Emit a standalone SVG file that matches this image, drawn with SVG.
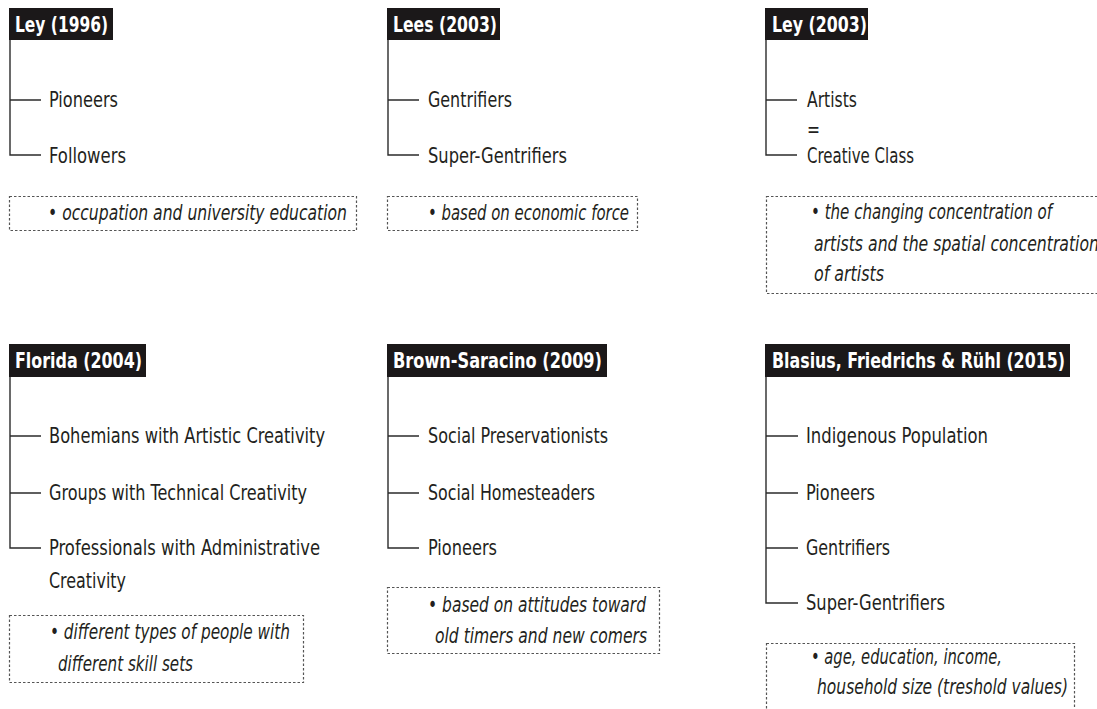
<svg xmlns="http://www.w3.org/2000/svg" width="1097" height="709" viewBox="0 0 1097 709">
<style>
.hdr{fill:#1b1819}
.ht{fill:#fff;font-family:"Liberation Sans Narrow","DejaVu Sans Condensed","Liberation Sans",sans-serif;font-weight:bold;font-size:22px}
.it{fill:#231f20;font-family:"Liberation Sans Narrow","DejaVu Sans Condensed","Liberation Sans",sans-serif;font-size:21px}
.nt{fill:#231f20;font-family:"Liberation Sans Narrow","DejaVu Sans Condensed","Liberation Sans",sans-serif;font-size:21px;font-style:italic}
.box{fill:none;stroke:#555;stroke-width:1.2;stroke-dasharray:2.5 2}
.ln{fill:none;stroke:#2b2b2b;stroke-width:1.4}
</style>
<rect width="1097" height="709" fill="#fff"/>
<g id="connectors">
<path class="ln" d="M10 40V155H41M10 100H41"/>
<path class="ln" d="M388 40V155H419M388 100H419"/>
<path class="ln" d="M766 40V155H797M766 100H797"/>
<path class="ln" d="M10 377V548H41M10 436H41M10 493H41"/>
<path class="ln" d="M388 377V548H419M388 436H419M388 493H419"/>
<path class="ln" d="M766 377V603H798M766 436H798M766 493H798M766 548H798"/>
</g>
<g id="ley1996">
<rect class="hdr" x="9" y="8" width="104" height="32"/>
<text class="ht" x="15" y="32" textLength="93" lengthAdjust="spacingAndGlyphs">Ley (1996)</text>
<text class="it" x="49" y="107" textLength="69" lengthAdjust="spacingAndGlyphs">Pioneers</text>
<text class="it" x="49" y="163" textLength="77" lengthAdjust="spacingAndGlyphs">Followers</text>
<rect class="box" x="9.5" y="196.5" width="347" height="34"/>
<text class="nt" x="48" y="220" textLength="299" lengthAdjust="spacingAndGlyphs">• occupation and university education</text>
</g>
<g id="lees2003">
<rect class="hdr" x="387" y="8" width="113" height="32"/>
<text class="ht" x="393" y="32" textLength="104" lengthAdjust="spacingAndGlyphs">Lees (2003)</text>
<text class="it" x="428" y="107" textLength="84" lengthAdjust="spacingAndGlyphs">Gentrifiers</text>
<text class="it" x="428" y="163" textLength="139" lengthAdjust="spacingAndGlyphs">Super-Gentrifiers</text>
<rect class="box" x="387.5" y="196.5" width="250" height="34"/>
<text class="nt" x="428" y="220" textLength="201" lengthAdjust="spacingAndGlyphs">• based on economic force</text>
</g>
<g id="ley2003">
<rect class="hdr" x="765" y="8" width="103" height="32"/>
<text class="ht" x="772" y="32" textLength="95" lengthAdjust="spacingAndGlyphs">Ley (2003)</text>
<text class="it" x="807" y="107" textLength="50" lengthAdjust="spacingAndGlyphs">Artists</text>
<text class="it" x="807" y="137" textLength="13" lengthAdjust="spacingAndGlyphs">=</text>
<text class="it" x="807" y="163" textLength="107" lengthAdjust="spacingAndGlyphs">Creative Class</text>
<rect class="box" x="766.5" y="196.5" width="340" height="97"/>
<text class="nt" x="811" y="219" textLength="241" lengthAdjust="spacingAndGlyphs">• the changing concentration of</text>
<text class="nt" x="814" y="251" textLength="285" lengthAdjust="spacingAndGlyphs">artists and the spatial concentration</text>
<text class="nt" x="814" y="281" textLength="70" lengthAdjust="spacingAndGlyphs">of artists</text>
</g>
<g id="florida2004">
<rect class="hdr" x="9" y="344" width="137" height="33"/>
<text class="ht" x="15" y="368" textLength="127" lengthAdjust="spacingAndGlyphs">Florida (2004)</text>
<text class="it" x="49" y="443" textLength="276" lengthAdjust="spacingAndGlyphs">Bohemians with Artistic Creativity</text>
<text class="it" x="49" y="500" textLength="258" lengthAdjust="spacingAndGlyphs">Groups with Technical Creativity</text>
<text class="it" x="49" y="555" textLength="271" lengthAdjust="spacingAndGlyphs">Professionals with Administrative</text>
<text class="it" x="49" y="588" textLength="77" lengthAdjust="spacingAndGlyphs">Creativity</text>
<rect class="box" x="9.5" y="615.5" width="294" height="67"/>
<text class="nt" x="50" y="639" textLength="240" lengthAdjust="spacingAndGlyphs">• different types of people with</text>
<text class="nt" x="58" y="671" textLength="135" lengthAdjust="spacingAndGlyphs">different skill sets</text>
</g>
<g id="brownsaracino2009">
<rect class="hdr" x="387" y="344" width="220" height="33"/>
<text class="ht" x="393" y="368" textLength="209" lengthAdjust="spacingAndGlyphs">Brown-Saracino (2009)</text>
<text class="it" x="428" y="443" textLength="180" lengthAdjust="spacingAndGlyphs">Social Preservationists</text>
<text class="it" x="428" y="500" textLength="167" lengthAdjust="spacingAndGlyphs">Social Homesteaders</text>
<text class="it" x="428" y="555" textLength="69" lengthAdjust="spacingAndGlyphs">Pioneers</text>
<rect class="box" x="387.5" y="587.5" width="272" height="66"/>
<text class="nt" x="428" y="612" textLength="218" lengthAdjust="spacingAndGlyphs">• based on attitudes toward</text>
<text class="nt" x="435" y="643" textLength="212" lengthAdjust="spacingAndGlyphs">old timers and new comers</text>
</g>
<g id="blasius2015">
<rect class="hdr" x="765" y="344" width="305" height="33"/>
<text class="ht" x="772" y="368" textLength="293" lengthAdjust="spacingAndGlyphs">Blasius, Friedrichs &amp; Rühl (2015)</text>
<text class="it" x="806" y="443" textLength="182" lengthAdjust="spacingAndGlyphs">Indigenous Population</text>
<text class="it" x="806" y="500" textLength="69" lengthAdjust="spacingAndGlyphs">Pioneers</text>
<text class="it" x="806" y="555" textLength="84" lengthAdjust="spacingAndGlyphs">Gentrifiers</text>
<text class="it" x="806" y="610" textLength="139" lengthAdjust="spacingAndGlyphs">Super-Gentrifiers</text>
<rect class="box" x="766.5" y="643.5" width="308" height="80"/>
<text class="nt" x="811" y="664" textLength="191" lengthAdjust="spacingAndGlyphs">• age, education, income,</text>
<text class="nt" x="817" y="694" textLength="251" lengthAdjust="spacingAndGlyphs">household size (treshold values)</text>
</g>
</svg>
